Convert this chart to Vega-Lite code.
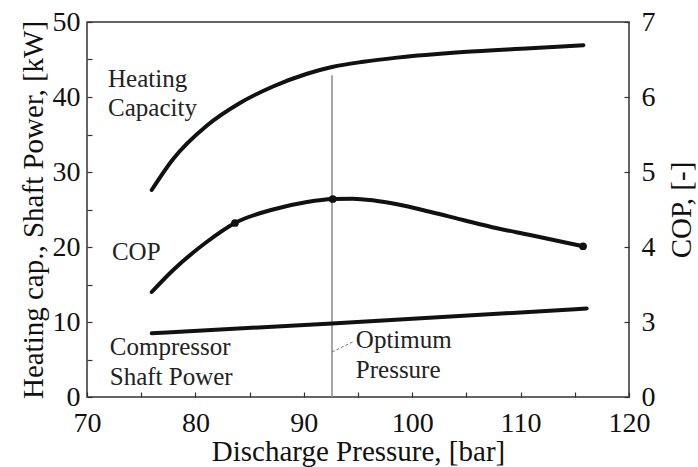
{
  "$schema": "https://vega.github.io/schema/vega-lite/v6.json",
  "width": 542,
  "height": 375,
  "autosize": {"type": "none"},
  "padding": {"left": 87, "top": 22, "right": 69, "bottom": 70},
  "background": "white",
  "datasets": {
    "capacity": [
      {"P": 75.97, "v": 27.6}, {"P": 77.93, "v": 31.7}, {"P": 81.07, "v": 36.2},
      {"P": 84.11, "v": 39.2}, {"P": 87.16, "v": 41.4}, {"P": 90.3, "v": 43.1},
      {"P": 92.6, "v": 44.0}, {"P": 95.5, "v": 44.7}, {"P": 98.6, "v": 45.25},
      {"P": 104.7, "v": 46.0}, {"P": 110.9, "v": 46.5}, {"P": 115.8, "v": 46.9}
    ],
    "power": [
      {"P": 75.97, "v": 8.5}, {"P": 92.6, "v": 9.8}, {"P": 116.1, "v": 11.8}
    ],
    "cop": [
      {"P": 75.97, "c": 3.40}, {"P": 77.93, "c": 3.69}, {"P": 81.07, "c": 4.07},
      {"P": 83.65, "c": 4.32}, {"P": 87.16, "c": 4.50}, {"P": 90.3, "c": 4.60},
      {"P": 92.67, "c": 4.64}, {"P": 94.5, "c": 4.645}, {"P": 96.5, "c": 4.62},
      {"P": 98.6, "c": 4.57}, {"P": 101.64, "c": 4.47}, {"P": 104.69, "c": 4.36},
      {"P": 107.82, "c": 4.25}, {"P": 110.87, "c": 4.16}, {"P": 115.76, "c": 4.01}
    ],
    "measured": [
      {"P": 83.65, "c": 4.32}, {"P": 92.67, "c": 4.64}, {"P": 115.76, "c": 4.01}
    ],
    "optimum": [{"P": 92.6, "v": 0, "v2": 42.9}],
    "leader": [{"P": 92.6, "P2": 94.6, "v": 6.0, "v2": 7.4}],
    "labels": [
      {"P": 71.94, "v": 41.3, "text": "Heating"},
      {"P": 71.94, "v": 37.5, "text": "Capacity"},
      {"P": 72.3, "v": 18.3, "text": "COP"},
      {"P": 72.1, "v": 5.6, "text": "Compressor"},
      {"P": 72.1, "v": 1.6, "text": "Shaft Power"},
      {"P": 94.8, "v": 6.5, "text": "Optimum"},
      {"P": 94.8, "v": 2.5, "text": "Pressure"}
    ]
  },
  "layer": [
    {
      "layer": [
        {
          "data": {"name": "optimum"},
          "mark": {"type": "rule", "color": "#8a8a8a", "strokeWidth": 1.5},
          "encoding": {
            "x": {"field": "P", "type": "quantitative", "scale": {"domain": [70, 120], "nice": false},
                  "axis": {"title": "Discharge Pressure, [bar]", "values": [70, 75, 80, 85, 90, 95, 100, 105, 110, 115, 120],
                           "labelExpr": "datum.value % 10 === 0 ? datum.label : ''", "labelPadding": 17,
                           "titleBaseline": "alphabetic", "titleY": 63}},
            "y": {"field": "v", "type": "quantitative", "scale": {"domain": [0, 50], "nice": false},
                  "axis": {"title": "Heating cap., Shaft Power, [kW]", "values": [0, 5, 10, 15, 20, 25, 30, 35, 40, 45, 50],
                           "labelExpr": "datum.value % 10 === 0 ? datum.label : ''", "labelPadding": 12}},
            "y2": {"field": "v2"}
          }
        },
        {
          "data": {"name": "leader"},
          "mark": {"type": "rule", "color": "#777777", "strokeWidth": 1, "strokeDash": [3, 2]},
          "encoding": {
            "x": {"field": "P", "type": "quantitative"},
            "x2": {"field": "P2"},
            "y": {"field": "v", "type": "quantitative",
                  "axis": {"title": "Heating cap., Shaft Power, [kW]", "values": [0, 5, 10, 15, 20, 25, 30, 35, 40, 45, 50],
                           "labelExpr": "datum.value % 10 === 0 ? datum.label : ''", "labelPadding": 12}},
            "y2": {"field": "v2"}
          }
        },
        {
          "data": {"name": "capacity"},
          "mark": {"type": "line", "color": "#111111", "strokeWidth": 4, "interpolate": "monotone", "strokeCap": "round"},
          "encoding": {
            "x": {"field": "P", "type": "quantitative"},
            "y": {"field": "v", "type": "quantitative",
                  "axis": {"title": "Heating cap., Shaft Power, [kW]", "values": [0, 5, 10, 15, 20, 25, 30, 35, 40, 45, 50],
                           "labelExpr": "datum.value % 10 === 0 ? datum.label : ''", "labelPadding": 12}}
          }
        },
        {
          "data": {"name": "power"},
          "mark": {"type": "line", "color": "#111111", "strokeWidth": 4, "interpolate": "monotone", "strokeCap": "round"},
          "encoding": {
            "x": {"field": "P", "type": "quantitative"},
            "y": {"field": "v", "type": "quantitative",
                  "axis": {"title": "Heating cap., Shaft Power, [kW]", "values": [0, 5, 10, 15, 20, 25, 30, 35, 40, 45, 50],
                           "labelExpr": "datum.value % 10 === 0 ? datum.label : ''", "labelPadding": 12}}
          }
        },
        {
          "data": {"name": "labels"},
          "mark": {"type": "text", "align": "left", "baseline": "alphabetic", "fontSize": 25, "font": "Liberation Serif", "color": "#222222"},
          "encoding": {
            "x": {"field": "P", "type": "quantitative"},
            "y": {"field": "v", "type": "quantitative",
                  "axis": {"title": "Heating cap., Shaft Power, [kW]", "values": [0, 5, 10, 15, 20, 25, 30, 35, 40, 45, 50],
                           "labelExpr": "datum.value % 10 === 0 ? datum.label : ''", "labelPadding": 12}},
            "text": {"field": "text"}
          }
        }
      ]
    },
    {
      "layer": [
        {
          "data": {"name": "cop"},
          "mark": {"type": "line", "color": "#111111", "strokeWidth": 4, "interpolate": "monotone", "strokeCap": "round"},
          "encoding": {
            "x": {"field": "P", "type": "quantitative"},
            "y": {"field": "c", "type": "quantitative", "scale": {"domain": [2, 7], "nice": false},
                  "axis": {"title": "COP, [-]", "orient": "right", "values": [2, 3, 4, 5, 6, 7],
                           "labelExpr": "datum.value === 2 ? '0' : datum.label", "labelPadding": 17,
                           "titleAngle": -90, "titleBaseline": "middle", "titleX": 52}}
          }
        },
        {
          "data": {"name": "measured"},
          "mark": {"type": "point", "filled": true, "color": "#111111", "size": 60, "opacity": 1},
          "encoding": {
            "x": {"field": "P", "type": "quantitative"},
            "y": {"field": "c", "type": "quantitative",
                  "axis": {"title": "COP, [-]", "orient": "right", "values": [2, 3, 4, 5, 6, 7],
                           "labelExpr": "datum.value === 2 ? '0' : datum.label", "labelPadding": 17,
                           "titleAngle": -90, "titleBaseline": "middle", "titleX": 52}}
          }
        }
      ]
    }
  ],
  "resolve": {"scale": {"y": "independent"}},
  "config": {
    "font": "Liberation Serif",
    "view": {"stroke": "#333333", "strokeWidth": 1.5},
    "axis": {
      "domain": false,
      "grid": false,
      "ticks": true,
      "tickSize": -5,
      "tickColor": "#333333",
      "tickWidth": 1.2,
      "labelFont": "Liberation Serif",
      "labelFontSize": 28,
      "labelColor": "#111111",
      "titleFont": "Liberation Serif",
      "titleFontSize": 29,
      "titleFontWeight": "normal",
      "titleColor": "#111111",
      "labelFlush": false,
      "labelOverlap": false
    }
  }
}
